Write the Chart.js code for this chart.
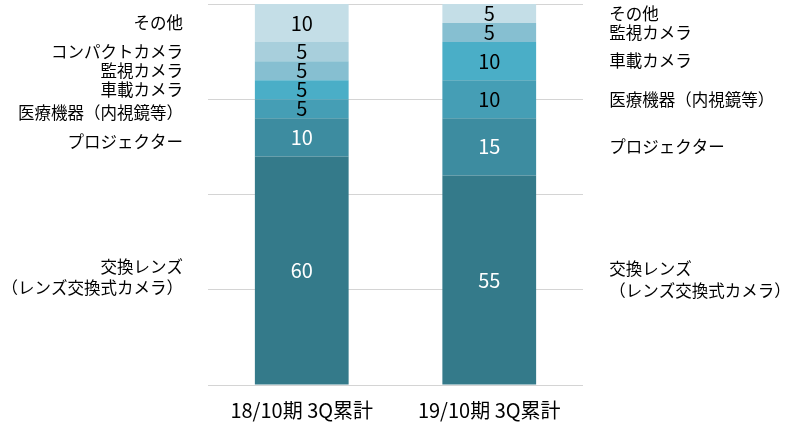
<!DOCTYPE html>
<html>
<head>
<meta charset="utf-8">
<script src="https://cdn.jsdelivr.net/npm/chart.js@4"></script>
<style>
  html, body { margin: 0; padding: 0; background: #fff; }
  #wrap { width: 787px; height: 424px; }
</style>
</head>
<body>
<div id="wrap"><canvas id="c" width="787" height="424"></canvas></div>
<script>
// periods
const periods = ['18/10期 3Q累計', '19/10期 3Q累計'];

// segments, bottom to top
const segments = ['交換レンズ\n（レンズ交換式カメラ）', 'プロジェクター', '医療機器（内視鏡等）', '車載カメラ', '監視カメラ', 'コンパクトカメラ', 'その他'];
const lensValues      = [60, 55];
const projectorValues = [10, 15];
const medicalValues   = [5, 10];
const carValues       = [5, 10];
const securityValues  = [5, 5];
const compactValues   = [5, null];
const otherValues     = [10, 5];

const segColors = ['#347a8a', '#3d8ca0', '#459eb5', '#4aaec7', '#86bfd1', '#a8cfdc', '#c4dee7'];
const valueColors = ['#fff', '#fff', '#000', '#000', '#000', '#000', '#000'];
const allValues = [lensValues, projectorValues, medicalValues, carValues, securityValues, compactValues, otherValues];

const jpFont = '"Noto Sans CJK JP", "Noto Sans", sans-serif';

// small nudges for the left-hand names (they don't sit exactly on the segment middle)
const leftNudge = [7, 4, 4, 0, 0, 0, 0];

// value labels inside bars + category names beside the outer bars
const segmentLabels = {
  id: 'segmentLabels',
  afterDatasetsDraw(chart) {
    const ctx = chart.ctx;
    ctx.save();
    chart.data.datasets.forEach((ds, i) => {
      const meta = chart.getDatasetMeta(i);
      meta.data.forEach((bar, j) => {
        const v = ds.data[j];
        if (v == null) return;
        const cy = (bar.y + bar.base) / 2;
        ctx.font = '20px ' + jpFont;
        ctx.fillStyle = valueColors[i];
        ctx.textAlign = 'center';
        ctx.textBaseline = 'middle';
        ctx.fillText(String(v), bar.x, cy);

        // side labels: left of first bar, right of second
        const lines = ds.label.split('\n');
        ctx.font = '16.5px ' + jpFont;
        ctx.fillStyle = '#000';
        let x, dy = 0;
        if (j === 0) { ctx.textAlign = 'right'; x = bar.x - bar.width / 2 - 72; dy = leftNudge[i]; }
        else { ctx.textAlign = 'left'; x = bar.x + bar.width / 2 + 73; }
        const lh = 21.5;
        const y0 = cy + dy - (lines.length - 1) * lh / 2;
        lines.forEach((t, k) => ctx.fillText(t, x, y0 + k * lh));
      });
    });
    ctx.restore();
  }
};

new Chart(document.getElementById('c'), {
  type: 'bar',
  data: {
    labels: periods,
    datasets: segments.map((name, i) => ({
      label: name,
      data: allValues[i],
      backgroundColor: segColors[i],
      borderWidth: 0,
      barPercentage: 0.5,
      categoryPercentage: 1.0
    }))
  },
  options: {
    responsive: false,
    animation: false,
    layout: { padding: { left: 208, right: 204, top: 4, bottom: 0 } },
    plugins: { legend: { display: false }, tooltip: { enabled: false } },
    scales: {
      x: {
        stacked: true,
        grid: { display: false, drawTicks: false },
        border: { display: false },
        ticks: { color: '#000', padding: 13, font: { family: jpFont, size: 20 } },
        afterFit: (s) => { s.height = 39; }
      },
      y: {
        stacked: true,
        min: 0, max: 100,
        ticks: { display: false, stepSize: 25 },
        grid: { color: '#d4d4d4', lineWidth: 1, drawTicks: false },
        border: { display: false },
        afterFit: (s) => { s.width = 0; }
      }
    }
  },
  plugins: [segmentLabels]
});
</script>
</body>
</html>
